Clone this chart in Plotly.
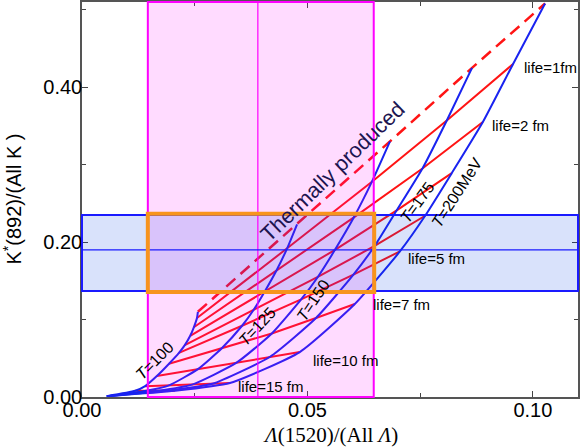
import plotly.graph_objects as go

# lifetimes (fm) of the constant-lifetime (red) lines; 0 = thermally produced
lifetimes = [0, 1, 2, 3, 4, 5, 7, 10, 15, 20]

# grid points: one list per temperature (MeV), ordered by lifetime
T100_x = [0.0257, 0.0255, 0.0248, 0.0240, 0.0228, 0.0215, 0.0193, 0.0166, 0.0140, 0.0118]
T100_y = [0.110, 0.102, 0.090, 0.079, 0.067, 0.057, 0.043, 0.027, 0.014, 0.008]
T125_x = [0.0477, 0.0455, 0.0431, 0.0405, 0.0380, 0.0355, 0.0310, 0.0257, 0.0193, 0.0143]
T125_y = [0.223, 0.192, 0.163, 0.136, 0.112, 0.092, 0.063, 0.036, 0.015, 0.008]
T150_x = [0.0683, 0.0643, 0.0603, 0.0561, 0.0523, 0.0486, 0.0421, 0.0342, 0.0244, 0.0167]
T150_y = [0.330, 0.278, 0.232, 0.190, 0.155, 0.126, 0.082, 0.044, 0.016, 0.008]
T175_x = [0.0865, 0.0809, 0.0755, 0.0698, 0.0649, 0.0602, 0.0519, 0.0417, 0.0289, 0.0188]
T175_y = [0.425, 0.357, 0.295, 0.241, 0.195, 0.158, 0.102, 0.052, 0.017, 0.008]
T200_x = [0.1027, 0.0956, 0.0889, 0.0820, 0.0761, 0.0705, 0.0605, 0.0483, 0.0328, 0.0206]
T200_y = [0.508, 0.430, 0.355, 0.289, 0.234, 0.188, 0.120, 0.058, 0.018, 0.008]

# long-lifetime limit where all temperature curves meet
limit_x = 0.0055
limit_y = 0.001

temps = [100, 125, 150, 175, 200]
temp_x = [T100_x, T125_x, T150_x, T175_x, T200_x]
temp_y = [T100_y, T125_y, T150_y, T175_y, T200_y]

# measured bands
lam_center, lam_low, lam_high = 0.039, 0.0146, 0.0647
kst_center, kst_low, kst_high = 0.19, 0.137, 0.235
box_x = [0.0146, 0.0648]
box_y = [0.1355, 0.2365]

# labels
life_labels = ["life=1fm", "life=2 fm", "life=5 fm", "life=7 fm", "life=10 fm", "life=15 fm"]
life_label_x = [0.0976, 0.0905, 0.0718, 0.0641, 0.0508, 0.0341]
life_label_y = [0.426, 0.351, 0.179, 0.119, 0.047, 0.014]
T_labels = ["<i>T</i>=100", "<i>T</i>=125", "<i>T</i>=150", "<i>T</i>=175", "<i>T</i>=200MeV"]
T_label_x = [0.0162, 0.0388, 0.0512, 0.0743, 0.0831]
T_label_y = [0.0465, 0.0916, 0.125, 0.2516, 0.2645]
T_label_angle = [-45, -47, -56, -54, -57]

RED = "rgb(255,20,20)"
BLUE = "rgb(25,35,240)"

fig = go.Figure()

# constant-lifetime red lines
for i, L in enumerate(lifetimes):
    xs = [tx[i] for tx in temp_x]
    ys = [ty[i] for ty in temp_y]
    fig.add_trace(go.Scatter(
        x=xs, y=ys, mode="lines",
        line=dict(color=RED, width=2.5 if L == 0 else 2, dash="12px,7px" if L == 0 else "solid"),
        showlegend=False, hoverinfo="skip"))

# constant-temperature blue curves
for k, T in enumerate(temps):
    fig.add_trace(go.Scatter(
        x=temp_x[k] + [limit_x], y=temp_y[k] + [limit_y], mode="lines",
        line=dict(color=BLUE, width=2, shape="spline", smoothing=0.5),
        showlegend=False, hoverinfo="skip"))

shapes = [
    dict(type="rect", xref="x", yref="paper", x0=lam_low, x1=lam_high, y0=0, y1=1,
         fillcolor="rgba(255,0,255,0.14)", line=dict(width=0), layer="above"),
    dict(type="rect", xref="paper", yref="y", x0=0, x1=1, y0=kst_low, y1=kst_high,
         fillcolor="rgba(0,60,230,0.15)", line=dict(width=0), layer="above"),
    dict(type="rect", xref="x", yref="paper", x0=lam_low, x1=lam_high, y0=0, y1=1,
         line=dict(color="#ff00ff", width=2), layer="above"),
    dict(type="line", xref="x", yref="paper", x0=lam_center, x1=lam_center, y0=0, y1=1,
         line=dict(color="#ff00ff", width=1.2), layer="above"),
    dict(type="rect", xref="paper", yref="y", x0=0, x1=1, y0=kst_low, y1=kst_high,
         line=dict(color="#1a1aff", width=2), layer="above"),
    dict(type="line", xref="paper", yref="y", x0=0, x1=1, y0=kst_center, y1=kst_center,
         line=dict(color="#1a1aff", width=1.2), layer="above"),
    dict(type="rect", xref="x", yref="y", x0=box_x[0], x1=box_x[1], y0=box_y[0], y1=box_y[1],
         line=dict(color="#f7941d", width=4), layer="above"),
]

annotations = []
for t, x, y in zip(life_labels, life_label_x, life_label_y):
    annotations.append(dict(x=x, y=y, text=t, showarrow=False, xanchor="left", yanchor="middle",
                            font=dict(family="Liberation Sans", size=15, color="black")))
for t, x, y, a in zip(T_labels, T_label_x, T_label_y, T_label_angle):
    annotations.append(dict(x=x, y=y, text=t, showarrow=False, textangle=a,
                            xanchor="center", yanchor="middle",
                            font=dict(family="Liberation Sans", size=16, color="black")))
annotations.append(dict(x=0.0556, y=0.2903, text="Thermally produced", showarrow=False,
                        textangle=-44, xanchor="center", yanchor="middle",
                        font=dict(family="Liberation Sans", size=21.5, color="#1c1450")))
# axis titles
annotations.append(dict(xref="paper", yref="paper", x=0.5, y=-0.096,
                        text="<i>Λ</i>(1520)/(All <i>Λ</i>)", showarrow=False,
                        xanchor="center", yanchor="middle",
                        font=dict(family="Liberation Serif", size=21, color="black")))
annotations.append(dict(xref="paper", yref="paper", x=-0.141, y=0.5,
                        text="K<sup>*</sup>(892)/(All K )", showarrow=False, textangle=-90,
                        xanchor="center", yanchor="middle",
                        font=dict(family="Liberation Sans", size=20, color="black")))

fig.update_layout(
    width=581, height=447,
    margin=dict(l=82, r=3, t=2, b=50, autoexpand=False),
    paper_bgcolor="white", plot_bgcolor="white",
    shapes=shapes, annotations=annotations,
    showlegend=False,
    xaxis=dict(range=[0, 0.11], tickvals=[0, 0.05, 0.10], ticktext=["0.00", "0.05", "0.10"],
               ticks="inside", ticklen=6, tickcolor="#444", tickwidth=1,
               minor=dict(tickvals=[0.025, 0.075], ticks="inside", ticklen=4, tickcolor="#444"),
               showline=True, linecolor="#555", linewidth=1.5, mirror="ticks",
               showgrid=False, zeroline=False, automargin=False, ticklabelstandoff=-6,
               tickfont=dict(family="Liberation Sans", size=20, color="black")),
    yaxis=dict(range=[0, 0.51], tickvals=[0, 0.2, 0.4], ticktext=["0.00", "0.20", "0.40"],
               ticks="inside", ticklen=6, tickcolor="#444", tickwidth=1,
               minor=dict(tickvals=[0.1, 0.3, 0.5], ticks="inside", ticklen=4, tickcolor="#444"),
               showline=True, linecolor="#555", linewidth=1.5, mirror="ticks",
               showgrid=False, zeroline=False, automargin=False, ticklabelstandoff=-6,
               tickfont=dict(family="Liberation Sans", size=20, color="black")),
)

fig.write_html("out.html", config={"displayModeBar": False},
               post_script="document.body.style.margin='0px';document.body.style.overflow='hidden';")
